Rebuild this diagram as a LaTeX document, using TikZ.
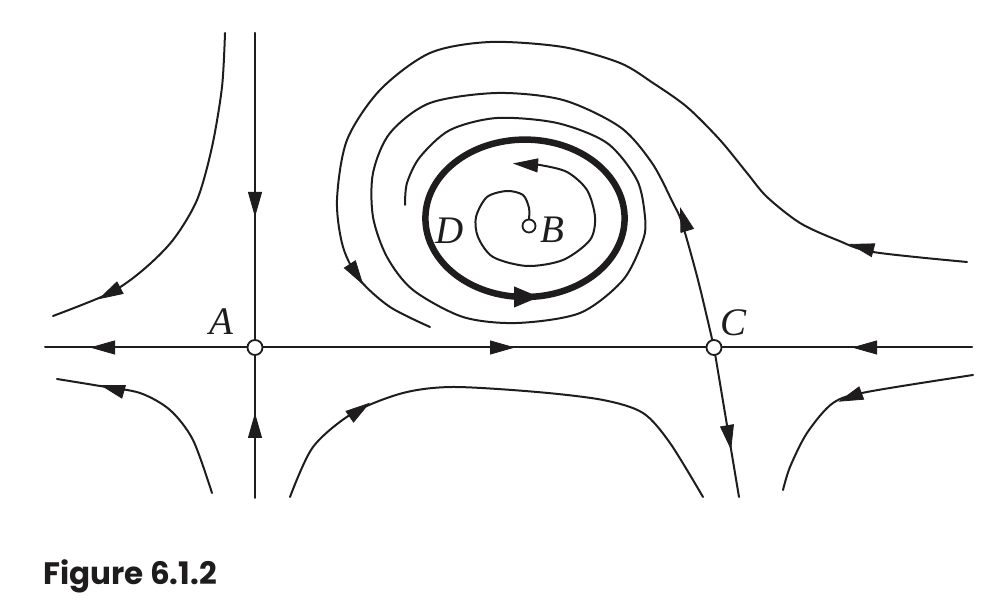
\documentclass[tikz,border=0pt]{standalone}
\usepackage{fontspec}
\setmainfont{Liberation Serif}
\newfontfamily\figfont{Poppins}
\usetikzlibrary{arrows.meta}
\definecolor{ink}{RGB}{30,28,28}
\tikzset{
  flow/.style={draw=ink, line width=2pt, line cap=round},
  limitcycle/.style={draw=ink, line width=6.5pt},
  fixpt/.style={circle, draw=ink, line width=1.8pt, fill=white, minimum size=15pt, inner sep=0pt},
  lbl/.style={font=\fontsize{39}{44}\selectfont\itshape, text=ink, inner sep=0pt, anchor=base},
  tiphead/.style={ink, line width=0.8pt, -{Triangle[length=25pt,width=14pt]}},
  bigtiphead/.style={ink, line width=0.8pt, -{Triangle[length=25pt,width=21pt]}},
}
% arrowhead with tip at #2 pointing in direction #3
\newcommand\headat[3][tiphead]{\draw[#1] (#2) ++(#3:-25pt) -- (#2);}
\begin{document}
\begin{tikzpicture}[x=1pt,y=1pt]
\useasboundingbox (0,0) rectangle (1001,609);

% fixed points
\node[fixpt] (A) at (255,261.5) {};
\node[fixpt] (C) at (714,261.5) {};
\node[fixpt, minimum size=13pt] (B) at (529,383) {};

% free ends
\coordinate (L) at (45,261.5);
\coordinate (R) at (972,261.5);
\coordinate (T) at (255,576);
\coordinate (Bot) at (255,111);
\coordinate (Cdn) at (739,112);

% straight manifolds
\draw[flow] (L) -- (A) -- (C) -- (R);
\draw[flow] (T) -- (A) -- (Bot);
\draw[flow] (C) -- (Cdn);
\headat{90,261.5}{180}
\headat{515,261.5}{0}
\headat{852,261.5}{180}
\headat{255,392}{270}
\headat{255,196}{90}
\headat{731.1,159}{-80.4}

% limit cycle D
\draw[limitcycle] (525,390.7) ellipse [x radius=99.6, y radius=78.7];
\headat[bigtiphead]{539,312}{0}

% spiral from B out to the limit cycle
\draw[flow] plot[smooth] coordinates {(B.north) (529,401) (523,414) (507,418) (487,412) (476,392) (478,372) (493,352) (527,343) (563,349) (590,369) (595,392) (587,419) (567,437) (540,444) (520,446)};
\headat{513,445.5}{175.6}

% unstable manifold of C spiralling in to the limit cycle
\draw[flow] plot[smooth] coordinates {(C.103) (698,329) (682,386) (673,406) (652,446) (620,482) (563,509) (497,516) (430,506) (390,476) (373,436) (373,392) (387,352) (413,319) (463,292) (517,286) (580,296) (623,329) (643,369) (645,392) (637,429) (607,466) (557,486) (497,491) (450,479) (420,452) (407,426) (405,404)};
\headat{680,402}{107}

% outer trajectory
\draw[flow] plot[smooth] coordinates {(967,347) (873,357) (837,369) (800,386) (767,412) (747,436) (720,469) (687,502) (653,526) (620,546) (563,562) (490,567) (430,556) (380,519) (347,469) (337,409) (343,362) (360,329) (390,302) (430,282)};
\headat{849.3,365}{165.4}
\headat{363.3,324}{-57}

% hyperbolic trajectories
\draw[flow] plot[smooth] coordinates {(225,576) (222,522) (212,462) (197,409) (173,369) (143,339) (110,316) (53,293)};
\headat{98.3,309.7}{208}
\draw[flow] plot[smooth] coordinates {(212,116) (193,169) (170,199) (140,216) (100,223) (57,230)};
\headat{100,224}{164}
\draw[flow] plot[smooth] coordinates {(290,112) (313,162) (353,196) (403,216) (453,222) (537,217) (603,209) (643,196) (670,166) (703,112)};
\headat{370,206.3}{34.7}
\draw[flow] plot[smooth] coordinates {(973,234) (867,217) (833,206) (807,176) (790,142) (783,119)};
\headat{838.3,207.3}{200.5}

% labels
\node[lbl] (labA) at (221,274) {A};
\node[lbl] (labC) at (733,273) {C};
\node[lbl] (labD) at (450,365) {D};
\node[lbl] (labB) at (552,366) {B};

% caption
\node[anchor=base west, inner sep=0pt, text=ink, font=\figfont\bfseries\fontsize{31}{36}\selectfont] (cap) at (43,24) {Figure 6.1.2};
\end{tikzpicture}
\end{document}
